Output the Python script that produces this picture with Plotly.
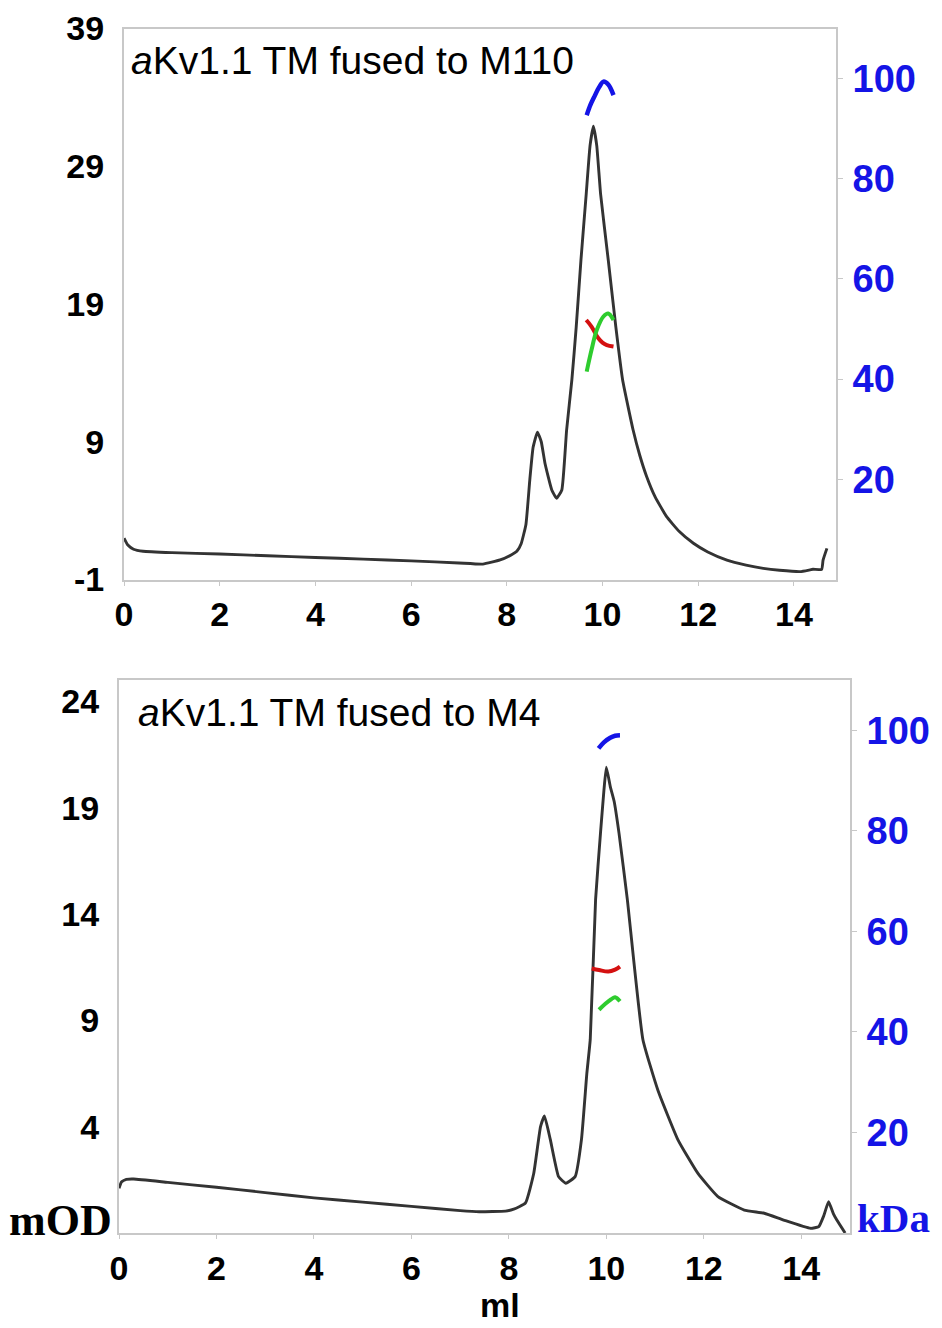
import plotly.graph_objects as go

W, H = 934, 1320   # page body adds an 8 px margin; the figure fills the rest of the 942x1328 view
OFF = 8

# ---------------- data: top panel (aKv1.1 TM fused to M110) ----------------
top_ml = [0, 0.08, 0.2, 0.4, 1, 2, 3, 4, 5, 6, 7, 7.5, 7.86, 8.1, 8.21, 8.3, 8.4, 8.48, 8.55,
          8.64, 8.72, 8.8, 8.94, 9.04, 9.15, 9.25, 9.36, 9.45, 9.55, 9.66, 9.74, 9.81, 9.88,
          9.96, 10.12, 10.28, 10.42, 10.64, 10.78, 10.92, 11.1, 11.34, 11.6, 11.9, 12.2, 12.6,
          13.0, 13.36, 13.7, 14.13, 14.34, 14.4, 14.58, 14.61, 14.69]
top_mod = [2.0, 1.5, 1.2, 1.05, 0.95, 0.85, 0.72, 0.6, 0.48, 0.35, 0.2, 0.12, 0.42, 0.8, 1.05,
           1.6, 3.0, 6.2, 8.6, 9.7, 9.0, 7.4, 5.5, 4.9, 5.5, 9.85, 13.5, 17.3, 22.2, 27.0, 30.5,
           31.9, 30.5, 27.0, 22.2, 17.3, 13.5, 9.85, 8.0, 6.5, 5.0, 3.56, 2.5, 1.63, 1.0, 0.41,
           0.05, -0.19, -0.33, -0.43, -0.3, -0.26, -0.26, 0.41, 1.26]
top_blue_ml = [9.67, 9.75, 9.84, 9.93, 10.02, 10.12, 10.23]
top_blue_kda = [92.7, 94.8, 96.6, 98.3, 99.4, 98.8, 96.7]
top_red_ml = [9.66, 9.77, 9.91, 10.0, 10.09, 10.23]
top_red_kda = [51.8, 50.5, 48.2, 47.3, 46.8, 46.5]
top_green_ml = [9.67, 9.77, 9.88, 10.02, 10.12, 10.23]
top_green_kda = [41.5, 45.8, 49.8, 52.5, 53.1, 51.8]

# ---------------- data: bottom panel (aKv1.1 TM fused to M4) ----------------
bot_ml = [0, 0.05, 0.15, 0.3, 1, 2, 3, 4, 5, 6, 7, 7.39, 7.93, 8.1, 8.34, 8.51, 8.65, 8.73,
          8.85, 9.02, 9.17, 9.36, 9.49, 9.6, 9.67, 9.78, 9.88, 9.95, 10.0, 10.08, 10.16, 10.26,
          10.43, 10.75, 11.06, 11.47, 11.88, 12.29, 12.83, 13.24, 13.64, 14.19, 14.36, 14.46,
          14.56, 14.66, 14.73, 14.9]
bot_mod = [1.1, 1.4, 1.52, 1.54, 1.38, 1.15, 0.9, 0.65, 0.45, 0.25, 0.05, 0.0, 0.03, 0.12,
           0.41, 1.8, 4.0, 4.5, 3.4, 1.65, 1.34, 1.65, 3.4, 6.5, 8.1, 14.7, 17.8, 19.8, 20.9,
           20.0, 19.3, 17.8, 14.7, 8.1, 5.7, 3.38, 1.8, 0.71, 0.08, -0.07, -0.39, -0.78, -0.7,
           -0.2, 0.47, -0.1, -0.39, -1.0]
bot_blue_ml = [9.84, 9.95, 10.08, 10.18, 10.28]
bot_blue_kda = [96.4, 97.6, 98.5, 98.9, 99.0]
bot_red_ml = [9.7, 9.85, 10.04, 10.18, 10.28]
bot_red_kda = [52.6, 52.3, 52.0, 52.4, 53.0]
bot_green_ml = [9.85, 9.98, 10.1, 10.18, 10.28]
bot_green_kda = [44.4, 45.6, 46.5, 46.9, 46.1]

x_ticks = [0, 2, 4, 6, 8, 10, 12, 14]
top_mod_ticks = [-1, 9, 19, 29, 39]
top_mod_labels = ["-1", "9", "19", "29", "39"]
bot_mod_ticks = [4, 9, 14, 19, 24]
kda_ticks = [20, 40, 60, 80, 100]

# ---------------- layout helpers (p = pixel position in the 942x1328 view) ----------------
def px_x(p):
    return (p - OFF) / W

def px_y(p):
    return 1 - (p - OFF) / H

BLACK = "#333333"
BLUE = "#1414e6"
RED = "#d41010"
GREEN = "#2ecc2e"
FRAME = "#c8c8c8"
FONT = "Liberation Sans"

fig = go.Figure()

def add_panel(xname, yname, y2name, xs, ys, b, r, g):
    fig.add_trace(go.Scatter(x=xs, y=ys, mode="lines",
                             line=dict(color=BLACK, width=2.9, shape="spline", smoothing=0.4),
                             xaxis=xname, yaxis=yname, showlegend=False))
    for (mx, kv), col, wd in ((b, BLUE, 4.5), (r, RED, 4), (g, GREEN, 4)):
        fig.add_trace(go.Scatter(x=mx, y=kv, mode="lines", line=dict(color=col, width=wd, shape="spline"),
                                 xaxis=xname, yaxis=y2name, showlegend=False))

add_panel("x", "y", "y3", top_ml, top_mod,
          (top_blue_ml, top_blue_kda), (top_red_ml, top_red_kda), (top_green_ml, top_green_kda))
add_panel("x2", "y2", "y4", bot_ml, bot_mod,
          (bot_blue_ml, bot_blue_kda), (bot_red_ml, bot_red_kda), (bot_green_ml, bot_green_kda))

tick_font = dict(family=FONT, size=34, color="black", weight="bold")
kda_font = dict(family=FONT, size=38, color=BLUE, weight="bold")

common_x = dict(tickvals=x_ticks, showline=True, mirror=True, linecolor=FRAME, linewidth=2,
                ticks="outside", ticklen=4, tickcolor=FRAME, tickfont=tick_font,
                showgrid=False, zeroline=False, ticklabelstandoff=0, automargin=False)
common_yl = dict(showline=True, mirror=True, linecolor=FRAME, linewidth=2, ticks="",
                 tickfont=tick_font, showgrid=False, zeroline=False, ticklabelstandoff=11,
                 automargin=False)
common_yr = dict(side="right", showline=False, ticks="outside", ticklen=6, tickcolor=FRAME,
                 tickvals=kda_ticks, range=[0, 110], tickfont=kda_font, showgrid=False,
                 zeroline=False, ticklabelstandoff=2, automargin=False)

top_dom_y = [px_y(579.5), px_y(28.5)]
bot_dom_y = [px_y(1233), px_y(680)]

fig.update_layout(
    width=W, height=H, margin=dict(l=0, r=0, t=0, b=0, pad=0, autoexpand=False),
    paper_bgcolor="white", plot_bgcolor="white",
    xaxis=dict(domain=[px_x(124), px_x(836)], anchor="y", range=[0, 14.88], **common_x),
    yaxis=dict(domain=top_dom_y, anchor="x", range=[-1, 39], tickvals=top_mod_ticks,
               ticktext=top_mod_labels, **common_yl),
    yaxis3=dict(overlaying="y", anchor="x", **common_yr),
    xaxis2=dict(domain=[px_x(119), px_x(850)], anchor="y2", range=[0, 15], **common_x),
    yaxis2=dict(domain=bot_dom_y, anchor="x2", range=[-1, 25], tickvals=bot_mod_ticks, **common_yl),
    yaxis4=dict(overlaying="y2", anchor="x2", **common_yr),
)

ann = [
    dict(text="<i>a</i>Kv1.1 TM fused to M110", x=px_x(129), y=px_y(60), xanchor="left", yanchor="middle",
         font=dict(family=FONT, size=39, color="black")),
    dict(text="<i>a</i>Kv1.1 TM fused to M4", x=px_x(136), y=px_y(712), xanchor="left", yanchor="middle",
         font=dict(family=FONT, size=39, color="black")),
    dict(text="<b>mOD</b>", x=px_x(114), y=px_y(1220), xanchor="right", yanchor="middle",
         font=dict(family="Liberation Serif", size=44, color="black")),
    dict(text="<b>kDa</b>", x=px_x(855), y=px_y(1218), xanchor="left", yanchor="middle",
         font=dict(family="Liberation Serif", size=41, color=BLUE)),
    dict(text="<b>ml</b>", x=px_x(500), y=px_y(1305), xanchor="center", yanchor="middle",
         font=dict(family=FONT, size=34, color="black")),
]
for a in ann:
    a.update(xref="paper", yref="paper", showarrow=False)
fig.update_layout(annotations=ann)

fig.write_html("out.html")
